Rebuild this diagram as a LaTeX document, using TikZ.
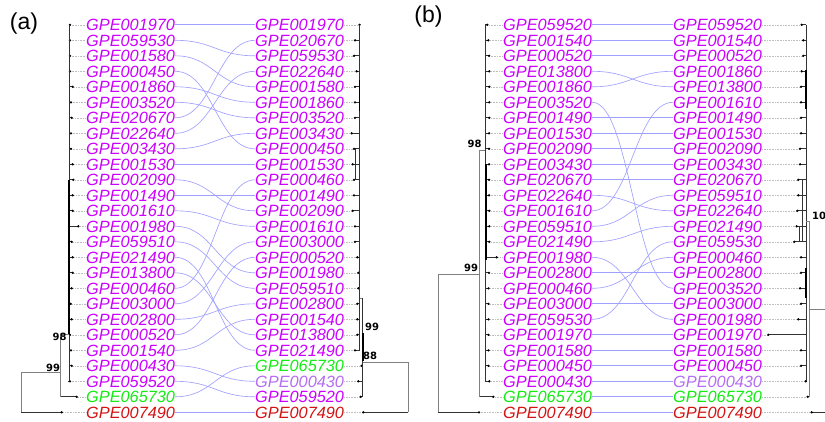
\documentclass[tikz,border=0pt]{standalone}
\usepackage{fontspec}
\setmainfont{Liberation Sans}
\newfontfamily\numfont{DejaVu Sans}
\definecolor{gpe}{RGB}{204,0,255}
\definecolor{gpelt}{RGB}{180,110,240}
\definecolor{gpegr}{RGB}{20,235,20}
\definecolor{gpered}{RGB}{210,20,20}
\definecolor{connc}{RGB}{160,160,255}
\definecolor{dotc}{RGB}{190,190,190}
\begin{document}
\begin{tikzpicture}[x=1pt,y=-1pt,
  lab/.style={inner sep=0pt, text height=11.6pt, text depth=0pt, font=\fontsize{16.3}{16.3}\selectfont\itshape},
  dotline/.style={draw=dotc, line width=0.5pt, dash pattern=on 0.7pt off 0.9pt},
  branch/.style={draw=black!80, line width=0.8pt},
  thickbr/.style={draw=black, line width=1.6pt},
  outer/.style={draw=black!50, line width=0.9pt},
  conn/.style={draw=connc, line width=0.65pt},
  tipdot/.style={fill=black},
  support/.style={font=\numfont\bfseries\fontsize{10}{10}\selectfont, inner sep=0pt},
  panel/.style={font=\fontsize{23}{23}\selectfont, inner sep=0pt}]
\useasboundingbox (0,0) rectangle (825,421);

\node[panel] (pa) at (24,24) {(a)};
\node[panel] (pb) at (428.5,17) {(b)};

% ---------- panel (a) left ----------
\foreach \c/\tx/\sx/\col [count=\i from 0] in {001970/70/69/gpe, 059530/70/69/gpe, 001580/70/69/gpe, 000450/70/69/gpe, 001860/72.7/69/gpe, 003520/71/69/gpe, 020670/71.7/69/gpe, 022640/71/69/gpe, 003430/71/69/gpe, 001530/72.7/69/gpe, 002090/73.3/69/gpe, 001490/72.7/69/gpe, 001610/72.7/69/gpe, 001980/78.3/69/gpe, 059510/71.7/69/gpe, 021490/72.7/69/gpe, 013800/72.7/69/gpe, 000460/71.7/69/gpe, 003000/70.7/69/gpe, 002800/71.7/69/gpe, 000520/70/69/gpe, 001540/71/69/gpe, 000430/71.7/69/gpe, 059520/70/68/gpe, 065730/76.7/60.7/gpegr, 007490/61.7/21/gpered}{
  \pgfmathsetmacro\yy{24.8+15.5*\i}
  \node[lab, anchor=west, text=\col] (aL\c) at (86,\yy) {GPE\c};
  \coordinate (aTL\c) at (\tx,\yy);
  \draw[dotline] (aTL\c) -- (aL\c.west);
  \draw[branch] (\sx,\yy) -- (aTL\c);
  \fill[tipdot] (aTL\c) circle[radius=1.3pt];
}
\draw[branch] (69,24.8) -- (69,381.3);
\draw[thickbr] (69,180) -- (69,334.8);
\draw[outer] (60.7,334.8) -- (69,334.8);
\draw[outer] (60.7,334.8) -- (60.7,396.8);
\draw[outer] (21,372) -- (60.7,372);
\draw[outer] (21,372) -- (21,412.3);
\node[support] (sa98) at (59.7,336.5) {98};
\node[support] (sa99) at (53,368) {99};

% ---------- panel (a) right ----------
\foreach \c/\tx/\sx/\col [count=\i from 0] in {001970/359.5/359.5/gpe, 020670/355/359.5/gpe, 059530/354/359.5/gpe, 022640/356.7/359.5/gpe, 001580/355/359.5/gpe, 001860/355/359.5/gpe, 003520/355/359.5/gpe, 003430/351.7/359.5/gpe, 000450/354/359.5/gpe, 001530/352.7/359.5/gpe, 000460/354/359.5/gpe, 001490/354/359.5/gpe, 002090/352.7/359.5/gpe, 001610/355/359.5/gpe, 003000/355/359.5/gpe, 000520/357.3/359.5/gpe, 001980/358.3/359.5/gpe, 059510/358.3/359.5/gpe, 002800/357.3/359.5/gpe, 001540/357.3/359.5/gpe, 013800/357.3/359.5/gpe, 021490/355/359.5/gpe, 065730/361.7/362.7/gpegr, 000430/358.3/362.7/gpelt, 059520/360.7/362.7/gpe, 007490/363.3/408.3/gpered}{
  \pgfmathsetmacro\yy{24.8+15.5*\i}
  \node[lab, anchor=west, text=\col] (aR\c) at (255,\yy) {GPE\c};
  \coordinate (aTR\c) at (\tx,\yy);
  \draw[dotline] (aR\c.east) -- (aTR\c);
  \draw[branch] (\sx,\yy) -- (aTR\c);
  \fill[tipdot] (aTR\c) circle[radius=1.3pt];
}
\draw[branch] (359.5,24.8) -- (359.5,350.3);
\draw[thickbr] (359.5,80) -- (359.5,111);
\draw[branch] (355,149) -- (355,180);
\draw[outer] (359.5,298) -- (362.7,298);
\draw[branch] (362.7,298) -- (362.7,396.8);
\draw[thickbr] (362.7,333) -- (362.7,361);
\draw[outer] (362.7,362) -- (408.3,362);
\draw[outer] (408.3,362) -- (408.3,412.3);
\node[support] (sa99r) at (372,327) {99};
\node[support] (sa88) at (370,355.5) {88};

% ---------- panel (a) connectors ----------
\foreach \c in {001970, 059530, 001580, 000450, 001860, 003520, 020670, 022640, 003430, 001530, 002090, 001490, 001610, 001980, 059510, 021490, 013800, 000460, 003000, 002800, 000520, 001540, 000430, 059520, 065730, 007490}{
  \draw[conn] (aL\c.east) .. controls +(38,0) and +(-38,0) .. (aR\c.west);
}

% ---------- panel (b) left ----------
\foreach \c/\tx/\sx/\col [count=\i from 0] in {059520/487.3/485/gpe, 001540/488.3/485/gpe, 000520/489/485/gpe, 013800/489.3/485/gpe, 001860/489.3/485/gpe, 003520/489.3/485/gpe, 001490/489.3/485/gpe, 001530/489/485/gpe, 002090/489/485/gpe, 003430/489/485/gpe, 020670/489/485/gpe, 022640/489/485/gpe, 001610/489.3/485/gpe, 059510/489.3/485/gpe, 021490/489.3/485/gpe, 001980/496.7/485/gpe, 002800/489/485/gpe, 000460/488.5/485/gpe, 003000/488.5/485/gpe, 059530/488.5/485/gpe, 001970/488.5/485/gpe, 001580/488.5/485/gpe, 000450/488.5/485/gpe, 000430/489.3/485/gpe, 065730/493.3/479/gpegr, 007490/479/438.3/gpered}{
  \pgfmathsetmacro\yy{24.8+15.5*\i}
  \node[lab, anchor=west, text=\col] (bL\c) at (503,\yy) {GPE\c};
  \coordinate (bTL\c) at (\tx,\yy);
  \draw[dotline] (bTL\c) -- (bL\c.west);
  \draw[branch] (\sx,\yy) -- (bTL\c);
  \fill[tipdot] (bTL\c) circle[radius=1.3pt];
}
\draw[branch] (485,24.8) -- (485,381.3);
\draw[thickbr] (486,164) -- (486,260);
\draw[outer] (479,150) -- (485,150);
\draw[outer] (479,150) -- (479,396.8);
\draw[outer] (438.3,274) -- (479,274);
\draw[outer] (438.3,274) -- (438.3,412.3);
\node[support] (sb98) at (474.7,144) {98};
\node[support] (sb99) at (471,268) {99};

% ---------- panel (b) right ----------
\foreach \c/\tx/\sx/\col [count=\i from 0] in {059520/801.7/806/gpe, 001540/803.3/806/gpe, 000520/803.3/806/gpe, 001860/801.7/806/gpe, 013800/801/806/gpe, 001610/801/806/gpe, 001490/801/806/gpe, 001530/801/806/gpe, 002090/800/806/gpe, 003430/800/806/gpe, 020670/798.3/806/gpe, 059510/798.3/806/gpe, 022640/797.3/806/gpe, 021490/796.7/806/gpe, 059530/794.3/806/gpe, 000460/801/806/gpe, 002800/801/806/gpe, 003520/800/806/gpe, 003000/801/806/gpe, 001980/798.3/806/gpe, 001970/768.3/806/gpe, 001580/801/806/gpe, 000450/801/806/gpe, 000430/805.7/806/gpelt, 065730/807.7/809.3/gpegr, 007490/811.7/825/gpered}{
  \pgfmathsetmacro\yy{24.8+15.5*\i}
  \node[lab, anchor=west, text=\col] (bR\c) at (673,\yy) {GPE\c};
  \coordinate (bTR\c) at (\tx,\yy);
  \draw[dotline] (bR\c.east) -- (bTR\c);
  \draw[branch] (\sx,\yy) -- (bTR\c);
  \fill[tipdot] (bTR\c) circle[radius=1.3pt];
}
\draw[branch] (806,24.8) -- (806,381.3);
\draw[thickbr] (806,70) -- (806,109);
\draw[thickbr] (806,268) -- (806,298);
\draw[branch] (802,180) -- (802,242);
\draw[branch] (799,226) -- (799,242);
\draw[outer] (806,221) -- (809.3,221);
\draw[outer] (809.3,221) -- (809.3,396.8);
\draw[outer] (809.3,309) -- (825,309);
\node[support, anchor=west] (sb10) at (812,216) {10};

% ---------- panel (b) connectors ----------
\foreach \c in {059520, 001540, 000520, 013800, 001860, 003520, 001490, 001530, 002090, 003430, 020670, 022640, 001610, 059510, 021490, 001980, 002800, 000460, 003000, 059530, 001970, 001580, 000450, 000430, 065730, 007490}{
  \draw[conn] (bL\c.east) .. controls +(38,0) and +(-38,0) .. (bR\c.west);
}
\end{tikzpicture}
\end{document}
